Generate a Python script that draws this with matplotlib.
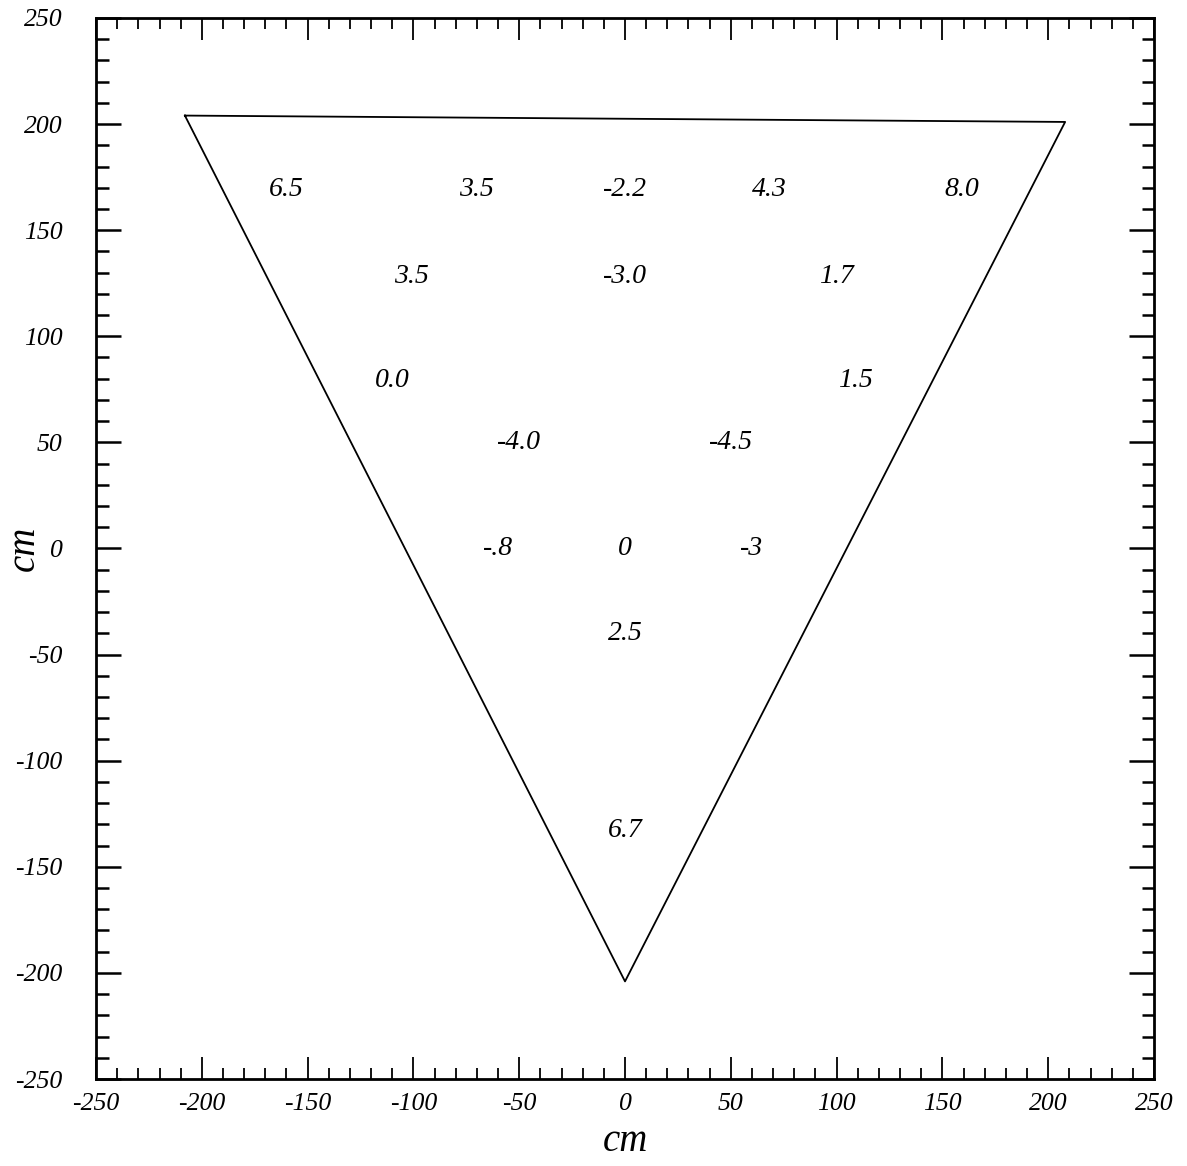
import matplotlib
matplotlib.use("Agg")
import matplotlib.pyplot as plt
from matplotlib.ticker import MultipleLocator

# Triangle outline vertices (cm)
tri_x = [-208, 208, 0, -208]
tri_y = [204, 201, -204, 204]

# Measured values and their positions (cm)
val_x = [-160, -70, 0, 68, 159, -101, 0, 100, -110, 109, -50, 50, -60, 0, 60, 0, 0]
val_y = [169, 169, 169, 169, 169, 128, 128, 128, 79, 79, 50, 50, 0, 0, 0, -40, -133]
val_txt = ["6.5", "3.5", "-2.2", "4.3", "8.0", "3.5", "-3.0", "1.7", "0.0", "1.5",
           "-4.0", "-4.5", "-.8", "0", "-3", "2.5", "6.7"]

ticks = [-250, -200, -150, -100, -50, 0, 50, 100, 150, 200, 250]

serif = ["Liberation Serif", "DejaVu Serif"]

fig = plt.figure(figsize=(11.87, 11.66), dpi=100)
ax = fig.add_axes([0.0809, 0.0746, 0.9722 - 0.0809, 0.9846 - 0.0746])

ax.plot(tri_x, tri_y, color="black", lw=1.3)
for x, y, t in zip(val_x, val_y, val_txt):
    ax.text(x, y, t, ha="center", va="center", fontsize=20, style="italic",
            family=serif)

ax.set_xlim(-250, 250)
ax.set_ylim(-250, 250)
ax.set_xticks(ticks)
ax.set_yticks(ticks)
ax.set_xticklabels([str(t) for t in ticks], family=serif, style="italic", fontsize=18.5)
ax.set_yticklabels([str(t) for t in ticks], family=serif, style="italic", fontsize=18.5)
ax.xaxis.set_minor_locator(MultipleLocator(10))
ax.yaxis.set_minor_locator(MultipleLocator(10))
ax.tick_params(axis="both", which="both", direction="in", top=True, right=True)
ax.tick_params(axis="y", which="major", length=18, width=1.8, pad=24)
ax.tick_params(axis="y", which="minor", length=9, width=1.8)
ax.tick_params(axis="x", which="major", length=16, width=1.3, pad=10)
ax.tick_params(axis="x", which="minor", length=8, width=1.3)
for s in ax.spines.values():
    s.set_linewidth(2)

ax.set_xlabel("cm", family=serif, style="italic", fontsize=28, va="center", ha="center")
ax.set_ylabel("cm", family=serif, style="italic", fontsize=28, va="center", ha="center")
ax.xaxis.set_label_coords(0.5, -0.0585)
ax.yaxis.set_label_coords(-0.068, 0.5)

fig.savefig("out.png", dpi=100)
